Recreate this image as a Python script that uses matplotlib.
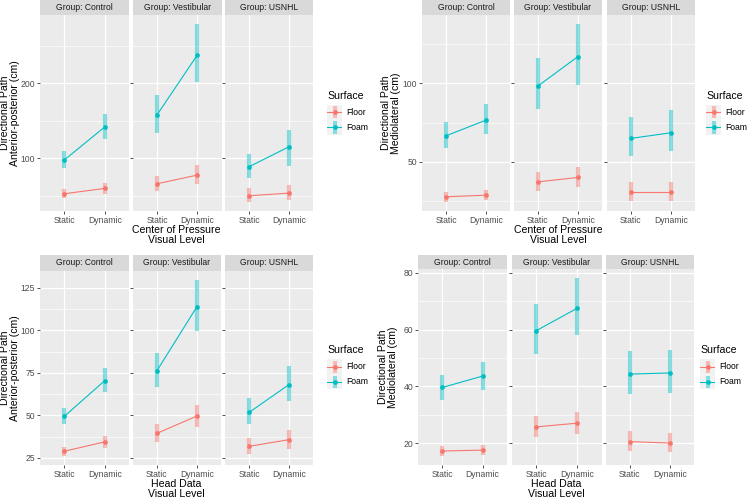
import matplotlib
matplotlib.use("Agg")
import matplotlib.pyplot as plt
import numpy as np

plt.rcParams['font.family'] = ['Liberation Sans', 'DejaVu Sans']

groups = ["Control", "Vestibular", "USNHL"]
levels = ["Static", "Dynamic"]
surfaces = ["Floor", "Foam"]
colors = {"Floor": "#F8766D", "Foam": "#00BFC4"}

# Center of Pressure, Anterior-posterior: [group][level]
cop_ap_floor = [[52.9, 60.0], [66.2, 77.8], [50.2, 53.8]]
cop_ap_floor_lo = [[46.7, 53.0], [56.0, 66.0], [41.8, 44.4]]
cop_ap_floor_hi = [[58.7, 67.0], [77.0, 91.0], [60.0, 64.4]]
cop_ap_foam = [[97.8, 141.8], [157.8, 237.8], [88.9, 115.6]]
cop_ap_foam_lo = [[86.7, 126.0], [134.0, 202.0], [73.8, 89.8]]
cop_ap_foam_hi = [[109.8, 159.0], [185.0, 279.0], [105.8, 137.8]]

# Center of Pressure, Mediolateral
cop_ml_floor = [[27.7, 28.7], [37.2, 40.0], [30.6, 30.6]]
cop_ml_floor_lo = [[24.3, 25.5], [31.5, 34.0], [25.3, 25.3]]
cop_ml_floor_hi = [[30.9, 32.3], [43.6, 46.8], [37.0, 37.0]]
cop_ml_foam = [[66.6, 76.6], [98.3, 117.0], [64.9, 68.5]]
cop_ml_foam_lo = [[58.9, 67.9], [83.4, 98.9], [53.8, 56.8]]
cop_ml_foam_hi = [[75.1, 86.6], [116.0, 137.9], [78.3, 83.0]]

# Head Data, Anterior-posterior
head_ap_floor = [[28.9, 34.4], [39.4, 49.6], [31.8, 35.7]]
head_ap_floor_lo = [[26.0, 31.0], [34.6, 43.1], [27.3, 30.5]]
head_ap_floor_hi = [[31.6, 38.0], [44.7, 56.2], [36.9, 41.6]]
head_ap_foam = [[49.4, 70.4], [76.1, 113.9], [51.7, 68.1]]
head_ap_foam_lo = [[44.7, 64.0], [66.5, 99.7], [44.7, 58.7]]
head_ap_foam_hi = [[54.2, 77.8], [86.4, 129.9], [60.3, 79.2]]

# Head Data, Mediolateral
head_ml_floor = [[17.2, 17.5], [25.7, 27.0], [20.5, 20.0]]
head_ml_floor_lo = [[15.4, 15.7], [22.1, 23.2], [17.3, 16.9]]
head_ml_floor_hi = [[18.9, 19.4], [29.7, 31.1], [24.3, 23.7]]
head_ml_foam = [[39.6, 43.6], [59.6, 67.5], [44.3, 44.7]]
head_ml_foam_lo = [[35.2, 38.8], [51.3, 58.0], [37.4, 37.6]]
head_ml_foam_hi = [[44.1, 48.7], [69.1, 78.2], [52.5, 52.7]]

W, H = 749, 498
fig = plt.figure(figsize=(W / 100, H / 100), dpi=100)

PANEL_BG = "#EBEBEB"
STRIP_BG = "#D9D9D9"
TICK_C = "#4D4D4D"
BAR_LW = 3.0
BAR_ALPHA = 0.45


def ax_at(x0, y0, x1, y1):
    return fig.add_axes([x0 / W, 1 - y1 / H, (x1 - x0) / W, (y1 - y0) / H])


def draw_chart(facet_x, strip_top, strip_bot, panel_bot, data, yticks, yminor,
               ylabel, xlabel, legend_xy):
    floor, floor_lo, floor_hi, foam, foam_lo, foam_hi = data
    allv = np.array([floor_lo, floor_hi, foam_lo, foam_hi]).ravel()
    lo, hi = allv.min(), allv.max()
    pad = (hi - lo) * 0.05
    ylim = (lo - pad, hi + pad)
    xs = np.arange(1, len(levels) + 1)
    for gi, (x0, x1) in enumerate(facet_x):
        ax = ax_at(x0, strip_bot, x1, panel_bot)
        ax.set_facecolor(PANEL_BG)
        for s in ax.spines.values():
            s.set_visible(False)
        ax.set_xlim(0.4, len(levels) + 0.6)
        ax.set_ylim(*ylim)
        for yv in yminor:
            ax.axhline(yv, color="white", lw=0.45, zorder=0)
        for yv in yticks:
            ax.axhline(yv, color="white", lw=0.9, zorder=0)
        for xv in xs:
            ax.axvline(xv, color="white", lw=0.9, zorder=0)
        for name, m, l, h in (("Floor", floor, floor_lo, floor_hi),
                              ("Foam", foam, foam_lo, foam_hi)):
            c = colors[name]
            ax.vlines(xs, l[gi], h[gi], color=c, lw=BAR_LW, alpha=BAR_ALPHA,
                      zorder=2)
            ax.plot(xs, m[gi], color=c, lw=0.8, zorder=3)
            ax.plot(xs, m[gi], 'o', color=c, ms=3.4, mew=0, zorder=4)
        ax.set_xticks(xs)
        ax.set_xticklabels(levels)
        ax.set_yticks(yticks)
        if gi == 0:
            ax.set_yticklabels([str(v) for v in yticks])
        else:
            ax.set_yticklabels([])
            ax.tick_params(axis='y', length=0)
        ax.tick_params(axis='both', colors="#333333", labelcolor=TICK_C,
                       labelsize=6.2, length=2.2, width=0.6, pad=1.5)
        # strip
        sax = ax_at(x0, strip_top, x1, strip_bot)
        sax.set_facecolor(STRIP_BG)
        sax.set_xticks([]); sax.set_yticks([])
        for s in sax.spines.values():
            s.set_visible(False)
        sax.text(0.5, 0.5, "Group: " + groups[gi], ha="center", va="center",
                 fontsize=6.2, color="#1A1A1A", transform=sax.transAxes)
    # axis titles
    cx = (facet_x[0][0] + facet_x[-1][1]) / 2
    fig.text(cx / W, 1 - (panel_bot + 14) / H, xlabel, ha="center", va="top",
             fontsize=7.6, color="black", linespacing=1.0)
    cy = (strip_bot + panel_bot) / 2
    fig.text(ylabel[0] / W, 1 - cy / H, ylabel[1], ha="center", va="center",
             rotation=90, fontsize=7.6, color="black", linespacing=1.0)
    # legend
    lx, ly = legend_xy
    fig.text(lx / W, 1 - ly / H, "Surface", ha="left", va="center",
             fontsize=7.6, color="black")
    for i, name in enumerate(surfaces):
        ky = ly + 16.5 + i * 15
        kax = ax_at(lx, ky - 7.5, lx + 15, ky + 7.5)
        kax.set_facecolor("#F2F2F2")
        kax.set_xticks([]); kax.set_yticks([])
        for s in kax.spines.values():
            s.set_visible(False)
        kax.set_xlim(0, 1); kax.set_ylim(0, 1)
        c = colors[name]
        kax.vlines(0.5, 0.1, 0.9, color=c, lw=BAR_LW, alpha=BAR_ALPHA)
        kax.plot([0, 1], [0.5, 0.5], color=c, lw=0.8)
        kax.plot([0.5], [0.5], 'o', color=c, ms=3.4, mew=0)
        fig.text((lx + 19) / W, 1 - ky / H, name, ha="left", va="center",
                 fontsize=6.2, color="black")


draw_chart([(40, 129), (132.7, 221.7), (225, 313.3)], 0, 15, 211,
           (cop_ap_floor, cop_ap_floor_lo, cop_ap_floor_hi,
            cop_ap_foam, cop_ap_foam_lo, cop_ap_foam_hi),
           [100, 200], [50, 150, 250],
           (10, "Directional Path\nAnterior-posterior (cm)"),
           "Center of Pressure\nVisual Level", (327, 96))

draw_chart([(422.3, 510), (514, 601.7), (606.7, 695)], 0, 15, 211,
           (cop_ml_floor, cop_ml_floor_lo, cop_ml_floor_hi,
            cop_ml_foam, cop_ml_foam_lo, cop_ml_foam_hi),
           [50, 100], [25, 75, 125],
           (375 + 16, "Directional Path\nMediolateral (cm)"),
           "Center of Pressure\nVisual Level", (706, 96))

draw_chart([(40, 129), (132.7, 221), (225, 313)], 255, 270.7, 465,
           (head_ap_floor, head_ap_floor_lo, head_ap_floor_hi,
            head_ap_foam, head_ap_foam_lo, head_ap_foam_hi),
           [25, 50, 75, 100, 125], [37.5, 62.5, 87.5, 112.5],
           (10, "Directional Path\nAnterior-posterior (cm)"),
           "Head Data\nVisual Level", (327, 350))

draw_chart([(418.3, 506.7), (511.7, 601.7), (605.7, 694.3)], 255, 269, 465,
           (head_ml_floor, head_ml_floor_lo, head_ml_floor_hi,
            head_ml_foam, head_ml_foam_lo, head_ml_foam_hi),
           [20, 40, 60, 80], [30, 50, 70],
           (375 + 13, "Directional Path\nMediolateral (cm)"),
           "Head Data\nVisual Level", (700, 350))

fig.savefig("out.png", dpi=100, facecolor="white")
